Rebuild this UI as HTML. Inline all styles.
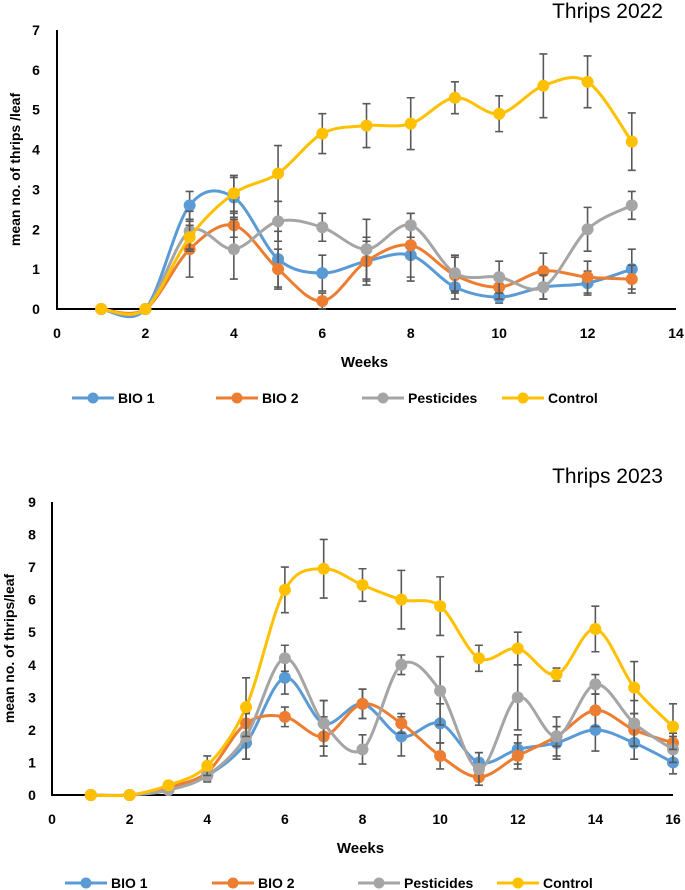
<!DOCTYPE html>
<html><head><meta charset="utf-8"><style>
body{margin:0;background:#fff;}
svg{display:block;font-family:"Liberation Sans",sans-serif;}
</style></head><body>
<svg id="c" width="685" height="890" viewBox="0 0 685 890"></svg>
<script>
const weeks22=[1,2,3,4,5,6,7,8,9,10,11,12,13];
const bio1_22=[0,0,2.6,2.8,1.25,0.9,1.2,1.35,0.55,0.3,0.55,0.65,1.0];
const bio2_22=[0,0,1.5,2.1,1.0,0.2,1.2,1.6,0.85,0.55,0.95,0.8,0.75];
const pest_22=[0,0,1.95,1.5,2.2,2.05,1.5,2.1,0.9,0.8,0.55,2.0,2.6];
const ctrl_22=[0,0,1.8,2.9,3.4,4.4,4.6,4.65,5.3,4.9,5.6,5.7,4.2];
const bio1e_22=[0,0,0.35,0.5,0.7,0.45,0.5,0.65,0.3,0.15,0.3,0.3,0.5];
const bio2e_22=[0,0,0.7,0.3,0.5,0.2,0.6,0.8,0.45,0.3,0.45,0.4,0.35];
const peste_22=[0,0,0.5,0.75,0.5,0.35,0.75,0.3,0.45,0.4,0.3,0.55,0.35];
const ctrle_22=[0,0,0.3,0.45,0.7,0.5,0.55,0.65,0.4,0.45,0.8,0.65,0.72];
const xt22=[0,2,4,6,8,10,12,14];
const yt22=[0,1,2,3,4,5,6,7];

const weeks23=[1,2,3,4,5,6,7,8,9,10,11,12,13,14,15,16];
const bio1_23=[0,0,0.2,0.6,1.6,3.6,2.2,2.8,1.8,2.2,1.0,1.4,1.6,2.0,1.6,1.0];
const bio2_23=[0,0,0.25,0.7,2.2,2.4,1.8,2.8,2.2,1.2,0.55,1.2,1.8,2.6,2.0,1.6];
const pest_23=[0,0,0.15,0.6,1.8,4.2,2.2,1.4,4.0,3.2,0.8,3.0,1.8,3.4,2.2,1.4];
const ctrl_23=[0,0,0.3,0.9,2.7,6.3,6.95,6.45,6.0,5.8,4.2,4.5,3.7,5.1,3.3,2.1];
const bio1e_23=[0,0,0.05,0.15,0.5,0.5,0.7,0.45,0.6,0.6,0.3,0.45,0.5,0.65,0.5,0.35];
const bio2e_23=[0,0,0.05,0.15,0.35,0.3,0.6,0.45,0.3,0.4,0.1,0.4,0.3,0.5,0.5,0.3];
const peste_23=[0,0,0.05,0.2,0.7,0.4,0.7,0.45,0.3,1.05,0.5,1.0,0.6,0.3,0.7,0.4];
const ctrle_23=[0,0,0.05,0.3,0.9,0.7,0.9,0.5,0.9,0.9,0.4,0.5,0.2,0.7,0.8,0.7];
const xt23=[0,2,4,6,8,10,12,14,16];
const yt23=[0,1,2,3,4,5,6,7,8,9];

const seriesNames=["BIO 1","BIO 2","Pesticides","Control"];
const colors=["#5B9BD5","#ED7D31","#A5A5A5","#FFC000"];

const svg=document.getElementById('c');
const NS="http://www.w3.org/2000/svg";
function mk(tag,attrs,parent){const e=document.createElementNS(NS,tag);for(const k in attrs)e.setAttribute(k,attrs[k]);(parent||svg).appendChild(e);return e;}
function smooth(pts){let d=`M${pts[0][0]},${pts[0][1]}`;for(let i=0;i<pts.length-1;i++){const p0=pts[i-1]||pts[i],p1=pts[i],p2=pts[i+1],p3=pts[i+2]||p2;const t=6;d+=` C${p1[0]+(p2[0]-p0[0])/t},${p1[1]+(p2[1]-p0[1])/t} ${p2[0]-(p3[0]-p1[0])/t},${p2[1]-(p3[1]-p1[1])/t} ${p2[0]},${p2[1]}`;}return d;}

function chart(cfg){
  const g=mk('g',{});
  
  
  const X=v=>cfg.x0+(v-cfg.xmin)/(cfg.xmax-cfg.xmin)*(cfg.x1-cfg.x0);
  const Y=v=>cfg.y0-(v/cfg.ymax)*(cfg.y0-cfg.y1);
  const t=mk('text',{x:663,y:cfg.titleY,'text-anchor':'end','font-size':21,fill:'#000'},g);t.textContent=cfg.title;
  
  const ax=mk('path',{d:`M${cfg.x0},${cfg.y1} V${cfg.y0} H${cfg.x1}`,stroke:'#000','stroke-width':2,fill:'none'},g);
  
  cfg.yt.forEach(v=>{const e=mk('text',{x:cfg.ylx,y:Y(v)+5,'text-anchor':'middle','font-size':14,'font-weight':'bold'},g);e.textContent=v;
    });
  cfg.xt.forEach(v=>{const e=mk('text',{x:X(v),y:cfg.y0+29,'text-anchor':'middle','font-size':14,'font-weight':'bold'},g);e.textContent=v;
    });
  const xt=mk('text',{x:(cfg.x0+cfg.x1)/2-2,y:cfg.y0+58,'text-anchor':'middle','font-size':15,'font-weight':'bold'},g);xt.textContent='Weeks';
  
  const yc=(cfg.y0+cfg.y1)/2;
  const yt=mk('text',{x:0,y:0,transform:`translate(${cfg.ytx},${yc}) rotate(-90)`,'text-anchor':'middle','font-size':14,'font-weight':'bold'},g);yt.textContent=cfg.ytitle;
  
  cfg.series.forEach((s,si)=>{
    const pts=cfg.weeks.map((w,i)=>[X(w),Y(s[i])]);
    s.forEach((v,i)=>{if(cfg.errs[si][i]>0){const x=X(cfg.weeks[i]),a=Y(v+cfg.errs[si][i]),b=Y(Math.max(0,v-cfg.errs[si][i]));
      const e=mk('path',{d:`M${x},${a}V${b}M${x-4},${a}H${x+4}M${x-4},${b}H${x+4}`,stroke:'#595959','stroke-width':1.6,fill:'none'},g);
      }});
    const l=mk('path',{d:smooth(pts),stroke:colors[si],'stroke-width':3,fill:'none'},g);
    
    pts.forEach(p=>{const c=mk('circle',{cx:p[0],cy:p[1],r:6,fill:colors[si]},g);
      });
  });
  cfg.legend.forEach((lx,i)=>{
    const lg=mk('g',{},g);
    
    mk('line',{x1:lx,x2:lx+42,y1:cfg.ly,y2:cfg.ly,stroke:colors[i],'stroke-width':3},lg);
    mk('circle',{cx:lx+21,cy:cfg.ly,r:5.5,fill:colors[i]},lg);
    const tt=mk('text',{x:lx+46,y:cfg.ly+5,'font-size':14,'font-weight':'bold'},lg);tt.textContent=seriesNames[i];
  });
}
chart({name:'chart-2022',title:'Thrips 2022',titleY:18,x0:57,x1:676,xmin:0,xmax:14,y0:309,y1:30,ymax:7,ylx:36,ytx:20,
  ytitle:'mean no. of thrips /leaf',weeks:weeks22,series:[bio1_22,bio2_22,pest_22,ctrl_22],errs:[bio1e_22,bio2e_22,peste_22,ctrle_22],
  xt:xt22,yt:yt22,legend:[72,216,362,502],ly:398});
chart({name:'chart-2023',title:'Thrips 2023',titleY:483,x0:52,x1:673,xmin:0,xmax:16,y0:795,y1:502,ymax:9,ylx:32,ytx:14,
  ytitle:'mean no. of thrips/leaf',weeks:weeks23,series:[bio1_23,bio2_23,pest_23,ctrl_23],errs:[bio1e_23,bio2e_23,peste_23,ctrle_23],
  xt:xt23,yt:yt23,legend:[65,212,358,497],ly:883});
</script>
</body></html>
